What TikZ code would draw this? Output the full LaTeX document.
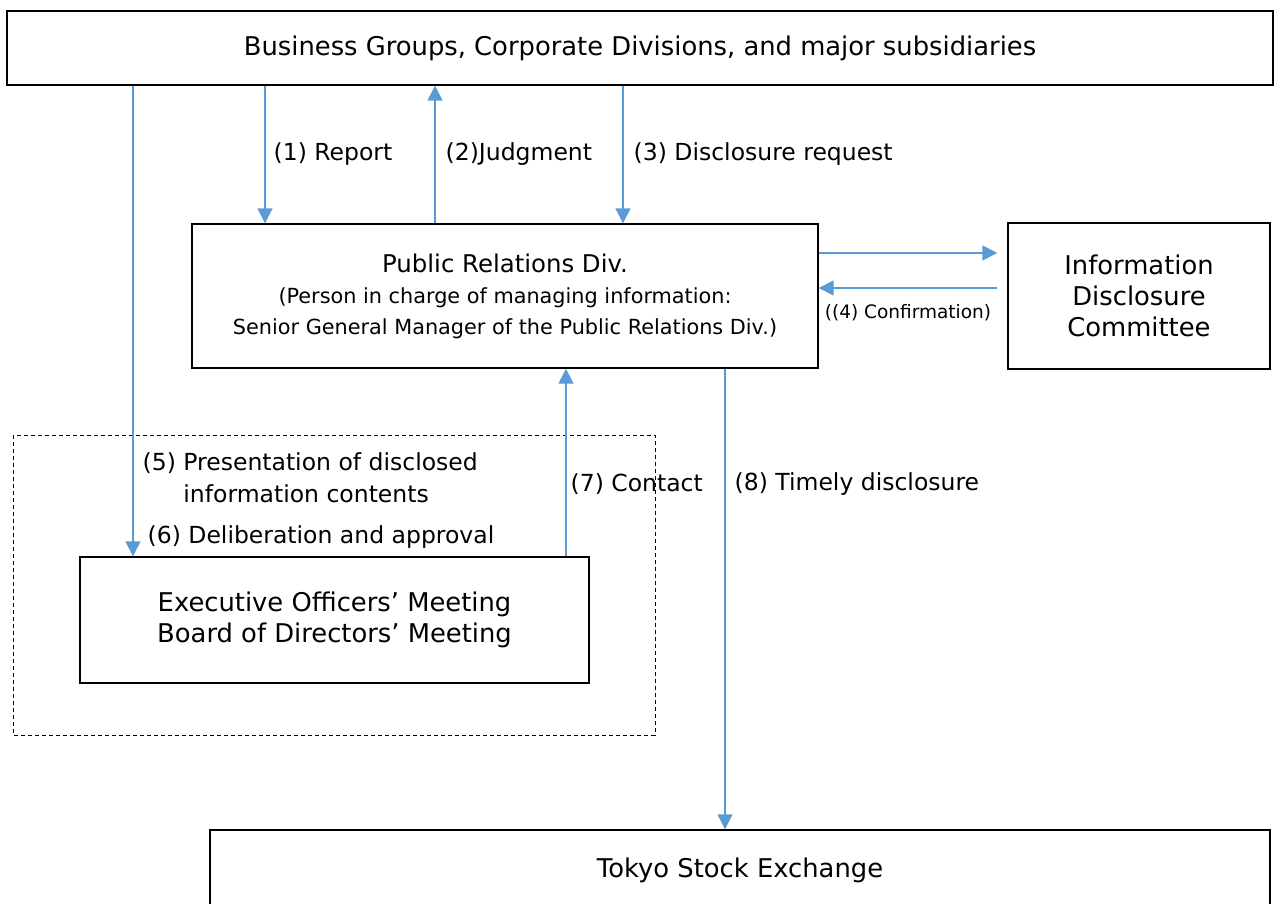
\documentclass[tikz,border=0pt]{standalone}
\usepackage{fontspec}
\setmainfont{DejaVu Sans}
\usetikzlibrary{arrows.meta}
\definecolor{flowblue}{HTML}{5B9BD5}
\begin{document}
\begin{tikzpicture}[
			x=0.5pt, y=-0.5pt,
			box/.style={rectangle, draw=black, line width=0.7pt, inner sep=0pt, align=center, font=\fontsize{12.9}{15.5}\selectfont},
			flow/.style={-{Triangle[width=7.5pt,length=7.5pt]}, draw=flowblue, line width=0.7pt},
			lbl/.style={inner sep=0pt, align=left, font=\fontsize{11.75}{16}\selectfont},
			note/.style={inner sep=0pt, font=\fontsize{9.25}{12}\selectfont}
	]
		\useasboundingbox (0,0) rectangle (1275,904);

		\node (groups) [box, minimum width=633pt, minimum height=37pt] at (640,48) {Business Groups, Corporate Divisions, and major subsidiaries};
		\node (pr) [box, minimum width=313pt, minimum height=72pt] at (505,296) {\fontsize{12.2}{16}\selectfont Public Relations Div.\\ \fontsize{10.4}{16}\selectfont (Person in charge of managing information:\\ \fontsize{10.4}{16}\selectfont Senior General Manager of the Public Relations Div.)};
		\node (idc) [box, minimum width=131pt, minimum height=73pt] at (1139,296) {Information\\Disclosure\\Committee};
		\node (exec) [box, minimum width=254.5pt, minimum height=63pt] at (334.5,620) {Executive Officers’ Meeting\\Board of Directors’ Meeting};
		\node (tse) [box, minimum width=530pt, minimum height=40pt] at (740,870) {Tokyo Stock Exchange};

		\draw [dashed, dash pattern=on 2pt off 1.5pt, line width=0.5pt] (13,435) rectangle (655,735);

		\draw [flow] (groups.south -| 265,0) -- node[lbl, right=4pt] {(1) Report} (pr.north -| 265,0);
		\draw [flow] (pr.north -| 435,0) -- node[lbl, right=5pt] {(2)Judgment} (groups.south -| 435,0);
		\draw [flow] (groups.south -| 623,0) -- node[lbl, right=5pt] {(3) Disclosure request} (pr.north -| 623,0);
		\draw [flow] (pr.east |- 0,253) -- ([xshift=-5pt]idc.west |- 0,253);
		\draw [flow] ([xshift=-5pt]idc.west |- 0,288) -- node[note, below=8pt] {((4) Confirmation)} (pr.east |- 0,288);
		\draw [flow] (groups.south -| 133,0) -- node[lbl, pos=0.835, right=4.5pt] {(5) Presentation of disclosed\\\phantom{(5) }information contents} node[lbl, pos=0.958, right=7pt] {(6) Deliberation and approval} (exec.north -| 133,0);
		\draw [flow] (exec.north -| 566,0) -- node[lbl, pos=0.384, right=2pt] {(7) Contact} (pr.south -| 566,0);
		\draw [flow] (pr.south -| 725,0) -- node[lbl, pos=0.25, right=4.5pt] {(8) Timely disclosure} (tse.north -| 725,0);
	\end{tikzpicture}
\end{document}
